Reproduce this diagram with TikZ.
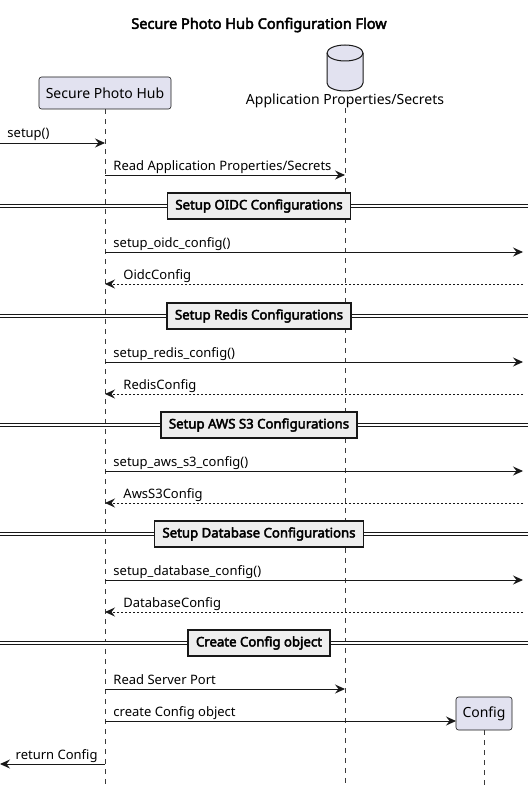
\documentclass[tikz,border=0pt]{standalone}
\usepackage{fontspec}
\setmainfont{Noto Sans}[AutoFakeBold=3.2]
\usetikzlibrary{arrows.meta,calc}
\definecolor{partfill}{HTML}{E2E2F0}
\definecolor{linecol}{HTML}{181818}
\definecolor{divfill}{HTML}{EEEEEE}
\tikzset{
  title/.style={font=\bfseries\fontsize{14.5}{16}\selectfont, inner sep=0pt},
  participant/.style={draw=linecol, fill=partfill, rounded corners=2.5pt, line width=0.6pt,
    font=\fontsize{14}{16}\selectfont, inner sep=0pt, minimum height=32pt},
  database/.style={draw=linecol, fill=partfill, line width=1pt},
  lifeline/.style={draw=linecol!85, line width=0.5pt, dash pattern=on 5pt off 5pt},
  msg/.style={draw=linecol, line width=0.9pt, -{Stealth[length=10pt,width=9pt,inset=3.5pt]}},
  reply/.style={msg, dash pattern=on 2pt off 2pt},
  msglabel/.style={font=\fontsize{13}{15}\selectfont, inner sep=0pt},
  divline/.style={draw=linecol, double, double distance=2.2pt, line width=0.9pt},
  divider/.style={draw=linecol, fill=divfill, line width=1.5pt, font=\bfseries\fontsize{13.2}{15}\selectfont,
    minimum height=26pt, inner xsep=8pt}
}
\begin{document}
\begin{tikzpicture}[x=1pt,y=-1pt]
\useasboundingbox (0,0) rectangle (528,789);

% Title
\node[title] (title) at (259,25) {Secure Photo Hub Configuration Flow};

% Participants
\node[participant, minimum width=132pt] (hub) at (105,93) {Secure Photo Hub};
\coordinate (db) at (345,68);
\draw[database] ($(db)+(-18,-15)$) -- ($(db)+(-18,15)$)
  arc[start angle=180, end angle=0, x radius=18, y radius=8] -- ($(db)+(18,-15)$)
  arc[start angle=0, end angle=-180, x radius=18, y radius=8] -- cycle;
\draw[database, fill=none] ($(db)+(-18,-15)$) arc[start angle=180, end angle=0, x radius=18, y radius=8];
\node[msglabel, font=\fontsize{14}{16}\selectfont] (dbname) at (345,101) {Application Properties/Secrets};

% Lifelines
\coordinate (hubend) at (105,785);
\coordinate (dbend) at (345,785);
\coordinate (cfgend) at (484,785);
\draw[lifeline] (hub.south) -- (hubend);
\draw[lifeline] (dbname.south -| db) -- (dbend);

% Incoming call and first read
\coordinate (in) at (0,143);
\draw[msg] (in) -- node[msglabel, pos=0, anchor=base west, xshift=7pt, yshift=5pt] {setup()} (hub |- in);
\coordinate (rd) at (345,175);
\draw[msg] (hub |- rd) -- node[msglabel, pos=0, anchor=base west, xshift=8pt, yshift=5pt] {Read Application Properties/Secrets} (rd);

% Configuration groups
\foreach \y/\sect/\call/\ret in {
  206/Setup OIDC Configurations/setup\_oidc\_config()/OidcConfig,
  316/Setup Redis Configurations/setup\_redis\_config()/RedisConfig,
  425/Setup AWS S3 Configurations/setup\_aws\_s3\_config()/AwsS3Config,
  534/Setup Database Configurations/setup\_database\_config()/DatabaseConfig}{
  \coordinate (divL) at (0,\y);
  \coordinate (divR) at (528,\y);
  \draw[divline] (divL) -- (divR);
  \node[divider] (sec) at (259,\y) {\sect};
  \coordinate (callR) at (523,\y+46);
  \draw[msg] (hub |- callR) -- node[msglabel, pos=0, anchor=base west, xshift=8pt, yshift=5pt] {\call} (callR);
  \coordinate (retR) at (523,\y+78);
  \draw[reply] (retR) -- node[msglabel, pos=1, anchor=base west, xshift=18pt, yshift=5pt] {\ret} (hub |- retR);
}

% Create Config object
\coordinate (divL) at (0,643);
\coordinate (divR) at (528,643);
\draw[divline] (divL) -- (divR);
\node[divider] (create) at (259,643) {Create Config object};
\coordinate (port) at (345,689);
\draw[msg] (hub |- port) -- node[msglabel, pos=0, anchor=base west, xshift=8pt, yshift=5pt] {Read Server Port} (port);
\node[participant, minimum width=56pt, minimum height=33pt] (cfg) at (484,713.5) {Config};
\draw[lifeline] (cfg.south) -- (cfgend);
\coordinate (mk) at (456,721);
\draw[msg] (hub |- mk) -- node[msglabel, pos=0, anchor=base west, xshift=8pt, yshift=5pt] {create Config object} (mk);

% Return
\coordinate (out) at (0,764);
\draw[msg] (hub |- out) -- node[msglabel, pos=0, anchor=base east, xshift=-7pt, yshift=5pt] {return Config} (out);

\end{tikzpicture}
\end{document}
